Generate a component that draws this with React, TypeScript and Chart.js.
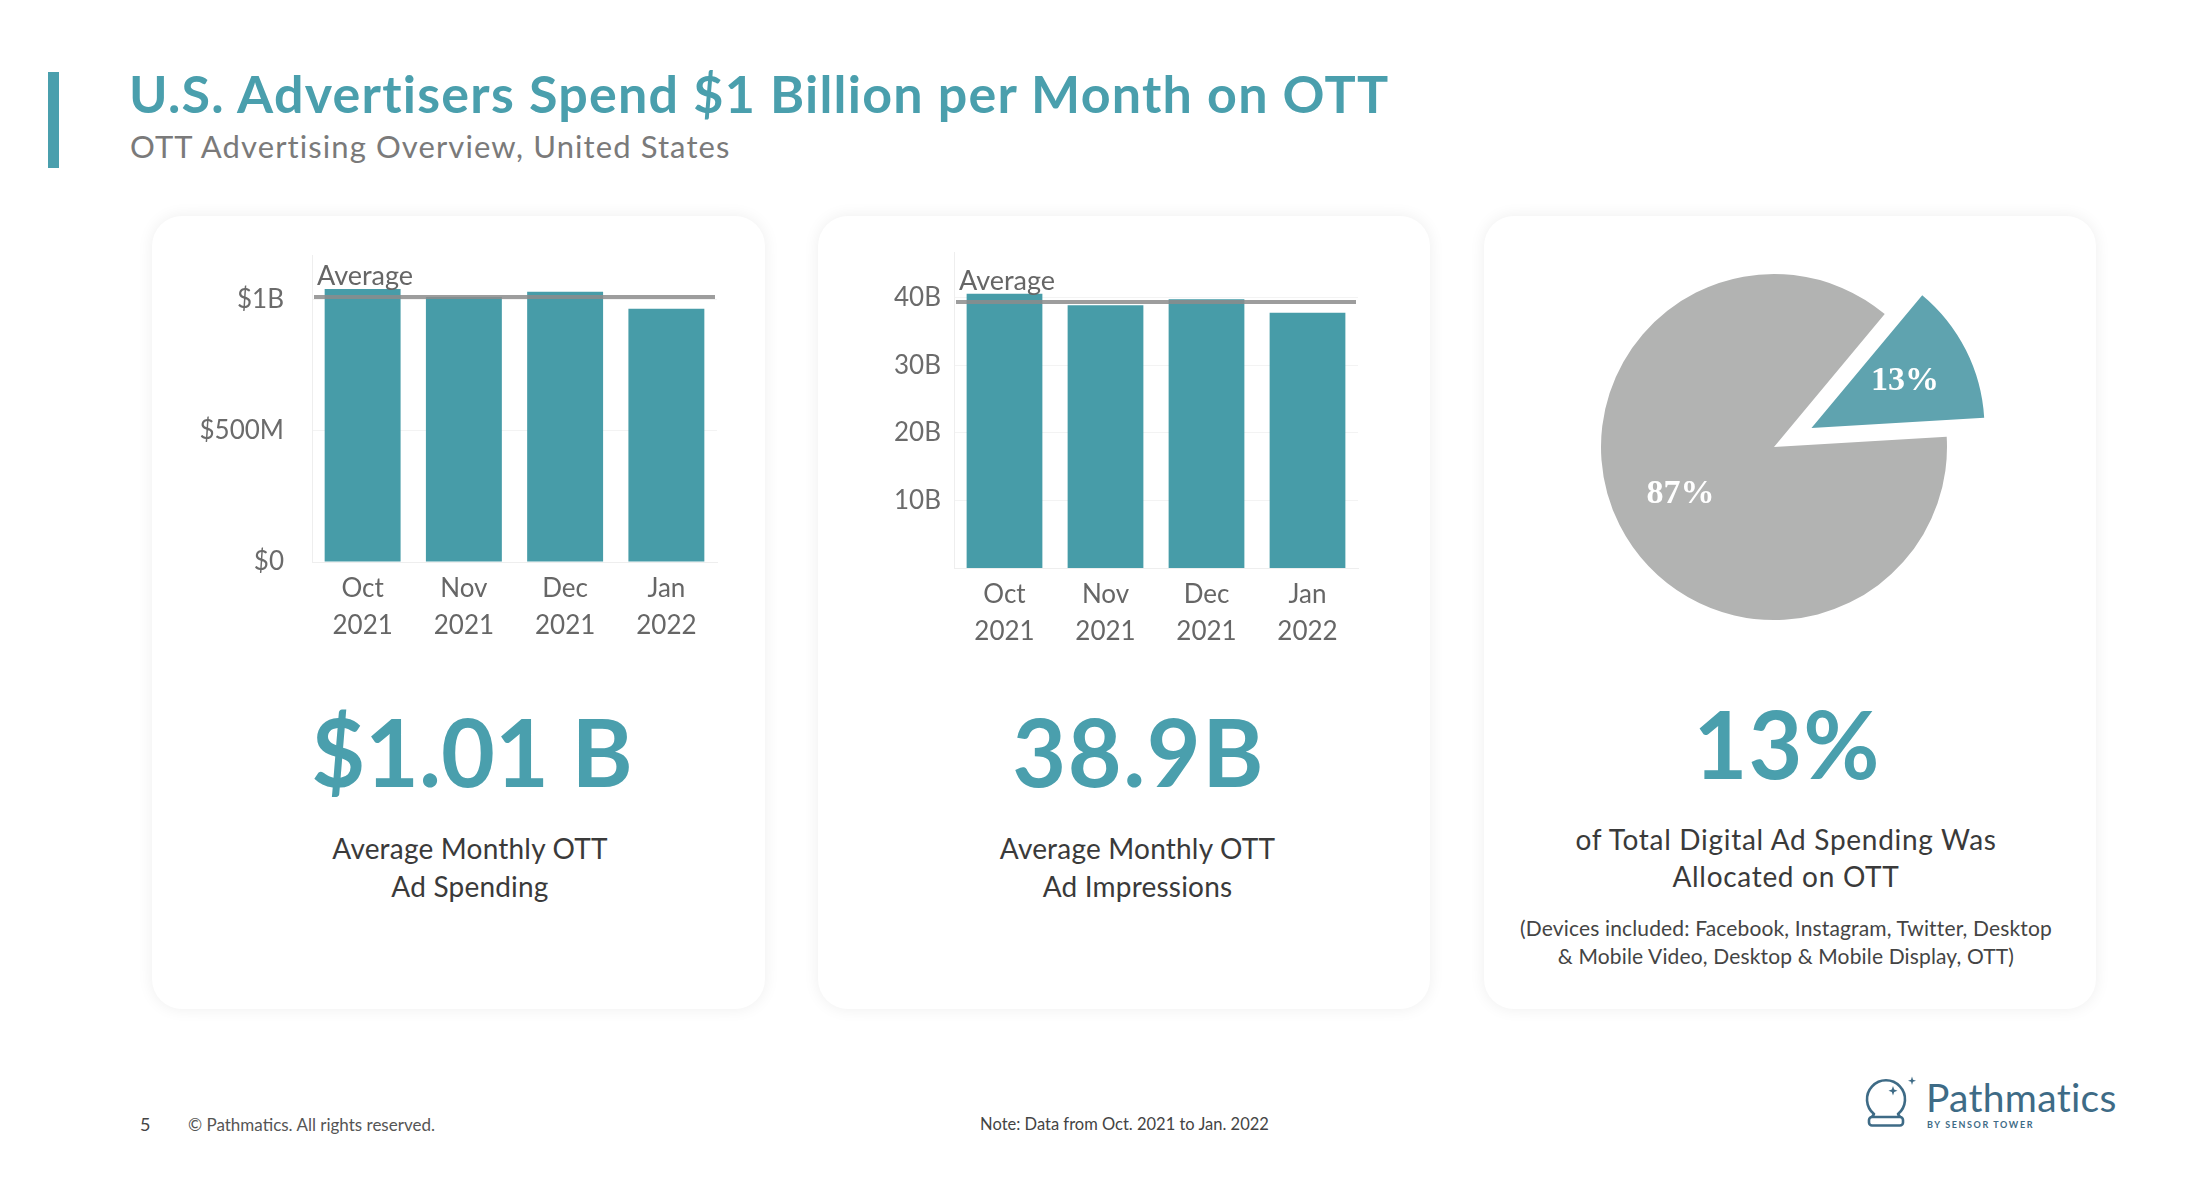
import React, { useEffect, useRef } from 'react';
import { Chart, registerables } from 'chart.js';

Chart.register(...registerables);

// ---------- data ----------
const months: string[][] = [['Oct', '2021'], ['Nov', '2021'], ['Dec', '2021'], ['Jan', '2022']];

const spendBillions = [1.04, 1.01, 1.03, 0.965];
const spendAverage = 1.01;
const spendTickValues = [0, 0.5, 1];
const spendTickLabels = ['$0', '$500M', '$1B'];
const spendAxisMax = 1.17;

const impressionBillions = [40.6, 38.9, 39.8, 37.8];
const impressionAverage = 39.4;
const impressionTickValues = [10, 20, 30, 40];
const impressionTickLabels = ['10B', '20B', '30B', '40B'];
const impressionAxisMax = 46.8;

const shareLabels = ['OTT', 'Other digital'];
const sharePercent = [13, 87];
const shareText = ['13%', '87%'];

const averageLabel = 'Average';

// ---------- styles ----------
const TEAL = '#4a9fad';
const BAR = '#479ca8';
const PIE_COLORS = ['#5fa3af', '#b2b3b2'];
const FONT = 'Lato';

function T(props: {
  x: number; baseline: number; size: number; weight?: number; color?: string;
  align?: 'left' | 'center'; children: React.ReactNode; ls?: number; family?: string;
}) {
  const { x, baseline, size, weight = 400, color = '#3a3a3a', align = 'left', children, ls = 0, family = FONT } = props;
  const top = baseline - 0.887 * size;
  const style: React.CSSProperties = {
    position: 'absolute', top, fontFamily: family, fontSize: size, fontWeight: weight,
    lineHeight: `${size}px`, color, whiteSpace: 'nowrap', letterSpacing: ls,
  };
  if (align === 'center') { style.left = x - 1000; style.width = 2000; style.textAlign = 'center'; }
  else { style.left = x; }
  return <div style={style}>{children}</div>;
}

function Card({ x, y, w, h }: { x: number; y: number; w: number; h: number }) {
  return <div style={{ position: 'absolute', left: x, top: y, width: w, height: h, borderRadius: 30,
    background: '#fff', boxShadow: '0 0 16px rgba(0,0,0,0.07)' }} />;
}

function avgPlugin(value: number) {
  return {
    id: 'avgLine',
    afterDatasetsDraw(chart: any) {
      const { ctx, chartArea, scales } = chart;
      const py = scales.y.getPixelForValue(value);
      ctx.save();
      ctx.strokeStyle = 'rgba(140,140,140,0.85)';
      ctx.lineWidth = 4;
      ctx.beginPath();
      ctx.moveTo(chartArea.left + 2, py);
      ctx.lineTo(chartArea.right - 2, py);
      ctx.stroke();
      ctx.fillStyle = '#666';
      ctx.font = `27px ${FONT}`;
      ctx.textAlign = 'left';
      ctx.textBaseline = 'alphabetic';
      ctx.fillText(averageLabel, chartArea.left + 5, py - 12);
      ctx.restore();
    },
  };
}

function BarPanel(props: {
  left: number; top: number; width: number; height: number; values: number[]; avg: number;
  tickValues: number[]; tickLabels: string[]; max: number; yWidth: number; tickPad: number;
  pad: { top: number; right: number; left: number; bottom: number }; xHeight: number;
}) {
  const ref = useRef<HTMLCanvasElement>(null);
  useEffect(() => {
    const p = props;
    const chart = new Chart(ref.current as HTMLCanvasElement, {
      type: 'bar',
      data: {
        labels: months,
        datasets: [{ data: p.values, backgroundColor: BAR, barPercentage: 0.75, categoryPercentage: 1, borderWidth: 0 }],
      },
      options: {
        animation: false, responsive: false, maintainAspectRatio: false, events: [],
        layout: { padding: p.pad },
        plugins: { legend: { display: false }, tooltip: { enabled: false } },
        scales: {
          x: {
            grid: { display: false, drawTicks: false },
            border: { display: true, color: '#eeeeee', width: 1 },
            ticks: { color: '#666', font: { family: FONT, size: 26, lineHeight: 1.42 }, padding: 8, maxRotation: 0, autoSkip: false },
            afterFit: (s: any) => { s.height = p.xHeight; s.paddingLeft = 0; s.paddingRight = 0; },
          },
          y: {
            min: 0, max: p.max,
            grid: { color: '#f3f3f3', drawTicks: false },
            border: { display: true, color: '#eeeeee', width: 1 },
            ticks: {
              color: '#6b6b6b', font: { family: FONT, size: 26 }, padding: p.tickPad,
              callback: (v: any) => { const i = p.tickValues.indexOf(Number(v)); return i >= 0 ? p.tickLabels[i] : ''; },
            },
            afterBuildTicks: (s: any) => { s.ticks = p.tickValues.map((v) => ({ value: v })); },
            afterFit: (s: any) => { s.width = p.yWidth; s.paddingTop = 0; s.paddingBottom = 0; },
          },
        },
      } as any,
      plugins: [avgPlugin(p.avg)],
    });
    return () => chart.destroy();
  }, []);
  return <canvas ref={ref} width={props.width} height={props.height}
    style={{ position: 'absolute', left: props.left, top: props.top }} />;
}

function PiePanel() {
  const ref = useRef<HTMLCanvasElement>(null);
  useEffect(() => {
    const explode = [42, 0];
    const explodePlugin = {
      id: 'explode',
      afterDatasetUpdate(chart: any) {
        const meta = chart.getDatasetMeta(0);
        meta.data.forEach((arc: any, i: number) => {
          const mid = (arc.startAngle + arc.endAngle) / 2;
          arc.x += Math.cos(mid) * explode[i];
          arc.y += Math.sin(mid) * explode[i];
        });
      },
      afterDatasetsDraw(chart: any) {
        const { ctx } = chart;
        const meta = chart.getDatasetMeta(0);
        ctx.save();
        ctx.fillStyle = '#ffffff';
        ctx.font = 'bold 34px "Liberation Serif"';
        ctx.textAlign = 'center';
        ctx.textBaseline = 'middle';
        meta.data.forEach((arc: any, i: number) => {
          const mid = (arc.startAngle + arc.endAngle) / 2;
          const r = arc.outerRadius * 0.605;
          ctx.fillText(shareText[i], arc.x + Math.cos(mid) * r, arc.y + Math.sin(mid) * r);
        });
        ctx.restore();
      },
    };
    const chart = new Chart(ref.current as HTMLCanvasElement, {
      type: 'pie',
      data: {
        labels: shareLabels,
        datasets: [{ data: sharePercent, backgroundColor: PIE_COLORS, borderWidth: 0, radius: 173 } as any],
      },
      options: {
        animation: false, responsive: false, maintainAspectRatio: false, events: [],
        radius: 173, rotation: 39.8,
        plugins: { legend: { display: false }, tooltip: { enabled: false } },
      } as any,
      plugins: [explodePlugin],
    });
    return () => chart.destroy();
  }, []);
  return <canvas ref={ref} width={460} height={400} style={{ position: 'absolute', left: 1544, top: 247 }} />;
}

function Logo() {
  const c = '#3e6b86';
  return (
    <>
      <svg width={70} height={70} style={{ position: 'absolute', left: 1860, top: 1070 }} viewBox="0 0 70 70">
        <path d="M 14 44 A 19 19 0 1 1 38 44" fill="none" stroke={c} strokeWidth={2.6} strokeLinecap="round" />
        <rect x={9} y={47} width={34} height={8.5} rx={3} fill="none" stroke={c} strokeWidth={2.6} />
        <line x1={14} y1={44} x2={12} y2={47} stroke={c} strokeWidth={2.6} />
        <line x1={38} y1={44} x2={40} y2={47} stroke={c} strokeWidth={2.6} />
        <path d="M 33 16 L 34.2 19.5 L 37.5 20.7 L 34.2 21.9 L 33 25.4 L 31.8 21.9 L 28.5 20.7 L 31.8 19.5 Z" fill={c} />
        <path d="M 52 6.5 L 53 9.7 L 56 10.7 L 53 11.7 L 52 14.9 L 51 11.7 L 48 10.7 L 51 9.7 Z" fill={c} />
      </svg>
      <T x={1926} baseline={1112.7} size={39} color={c} ls={0.3}>Pathmatics</T>
      <T x={1927} baseline={1127.5} size={9} weight={700} color={c} ls={1.6}>BY SENSOR TOWER</T>
    </>
  );
}

export default function App() {
  return (
    <div style={{ position: 'absolute', left: 0, top: 0, width: 2212, height: 1180, background: '#fff', overflow: 'hidden' }}>
      <div style={{ position: 'absolute', left: 48, top: 72, width: 11, height: 96, background: TEAL }} />
      <T x={129} baseline={112.7} size={52} weight={700} color={TEAL} ls={1.25}>U.S. Advertisers Spend $1 Billion per Month on OTT</T>
      <T x={130} baseline={158.3} size={31} color="#7a7a7a" ls={1.1}>OTT Advertising Overview, United States</T>

      <Card x={152} y={216} w={613} h={793} />
      <Card x={818} y={216} w={612} h={793} />
      <Card x={1484} y={216} w={612} h={793} />

      <BarPanel left={160} top={240} width={600} height={420} values={spendBillions} avg={spendAverage}
        tickValues={spendTickValues} tickLabels={spendTickLabels} max={spendAxisMax}
        yWidth={152} tickPad={28} pad={{ top: 15, right: 43, left: 0, bottom: 0 }} xHeight={98} />
      <BarPanel left={830} top={240} width={560} height={420} values={impressionBillions} avg={impressionAverage}
        tickValues={impressionTickValues} tickLabels={impressionTickLabels} max={impressionAxisMax}
        yWidth={124} tickPad={13} pad={{ top: 12, right: 32, left: 0, bottom: 0 }} xHeight={92} />
      <PiePanel />

      <T x={472} baseline={787} size={93} weight={700} color={TEAL} align="center">$1.01 B</T>
      <T x={470} baseline={859.3} size={28} align="center" ls={0.2}>Average Monthly OTT</T>
      <T x={470} baseline={896.7} size={28} align="center" ls={0.2}>Ad Spending</T>

      <T x={1138.7} baseline={787} size={93} weight={700} color={TEAL} align="center" ls={1.5}>38.9B</T>
      <T x={1137.5} baseline={859.3} size={28} align="center" ls={0.2}>Average Monthly OTT</T>
      <T x={1137.5} baseline={896.7} size={28} align="center" ls={0.2}>Ad Impressions</T>

      <T x={1787} baseline={779} size={93} weight={700} color={TEAL} align="center" ls={1}>13%</T>
      <T x={1786} baseline={850} size={28} align="center" ls={0.7}>of Total Digital Ad Spending Was</T>
      <T x={1786} baseline={887} size={28} align="center" ls={0.7}>Allocated on OTT</T>
      <T x={1786} baseline={936} size={21} color="#444" align="center" ls={0.15}>(Devices included: Facebook, Instagram, Twitter, Desktop</T>
      <T x={1786} baseline={963.3} size={21} color="#444" align="center" ls={0.15}>&amp; Mobile Video, Desktop &amp; Mobile Display, OTT)</T>

      <T x={140} baseline={1131} size={18} color="#444">5</T>
      <T x={188} baseline={1130.7} size={17} color="#555">© Pathmatics. All rights reserved.</T>
      <T x={1124.5} baseline={1131} size={16.5} color="#444" align="center">Note: Data from Oct. 2021 to Jan. 2022</T>
      <Logo />
    </div>
  );
}
